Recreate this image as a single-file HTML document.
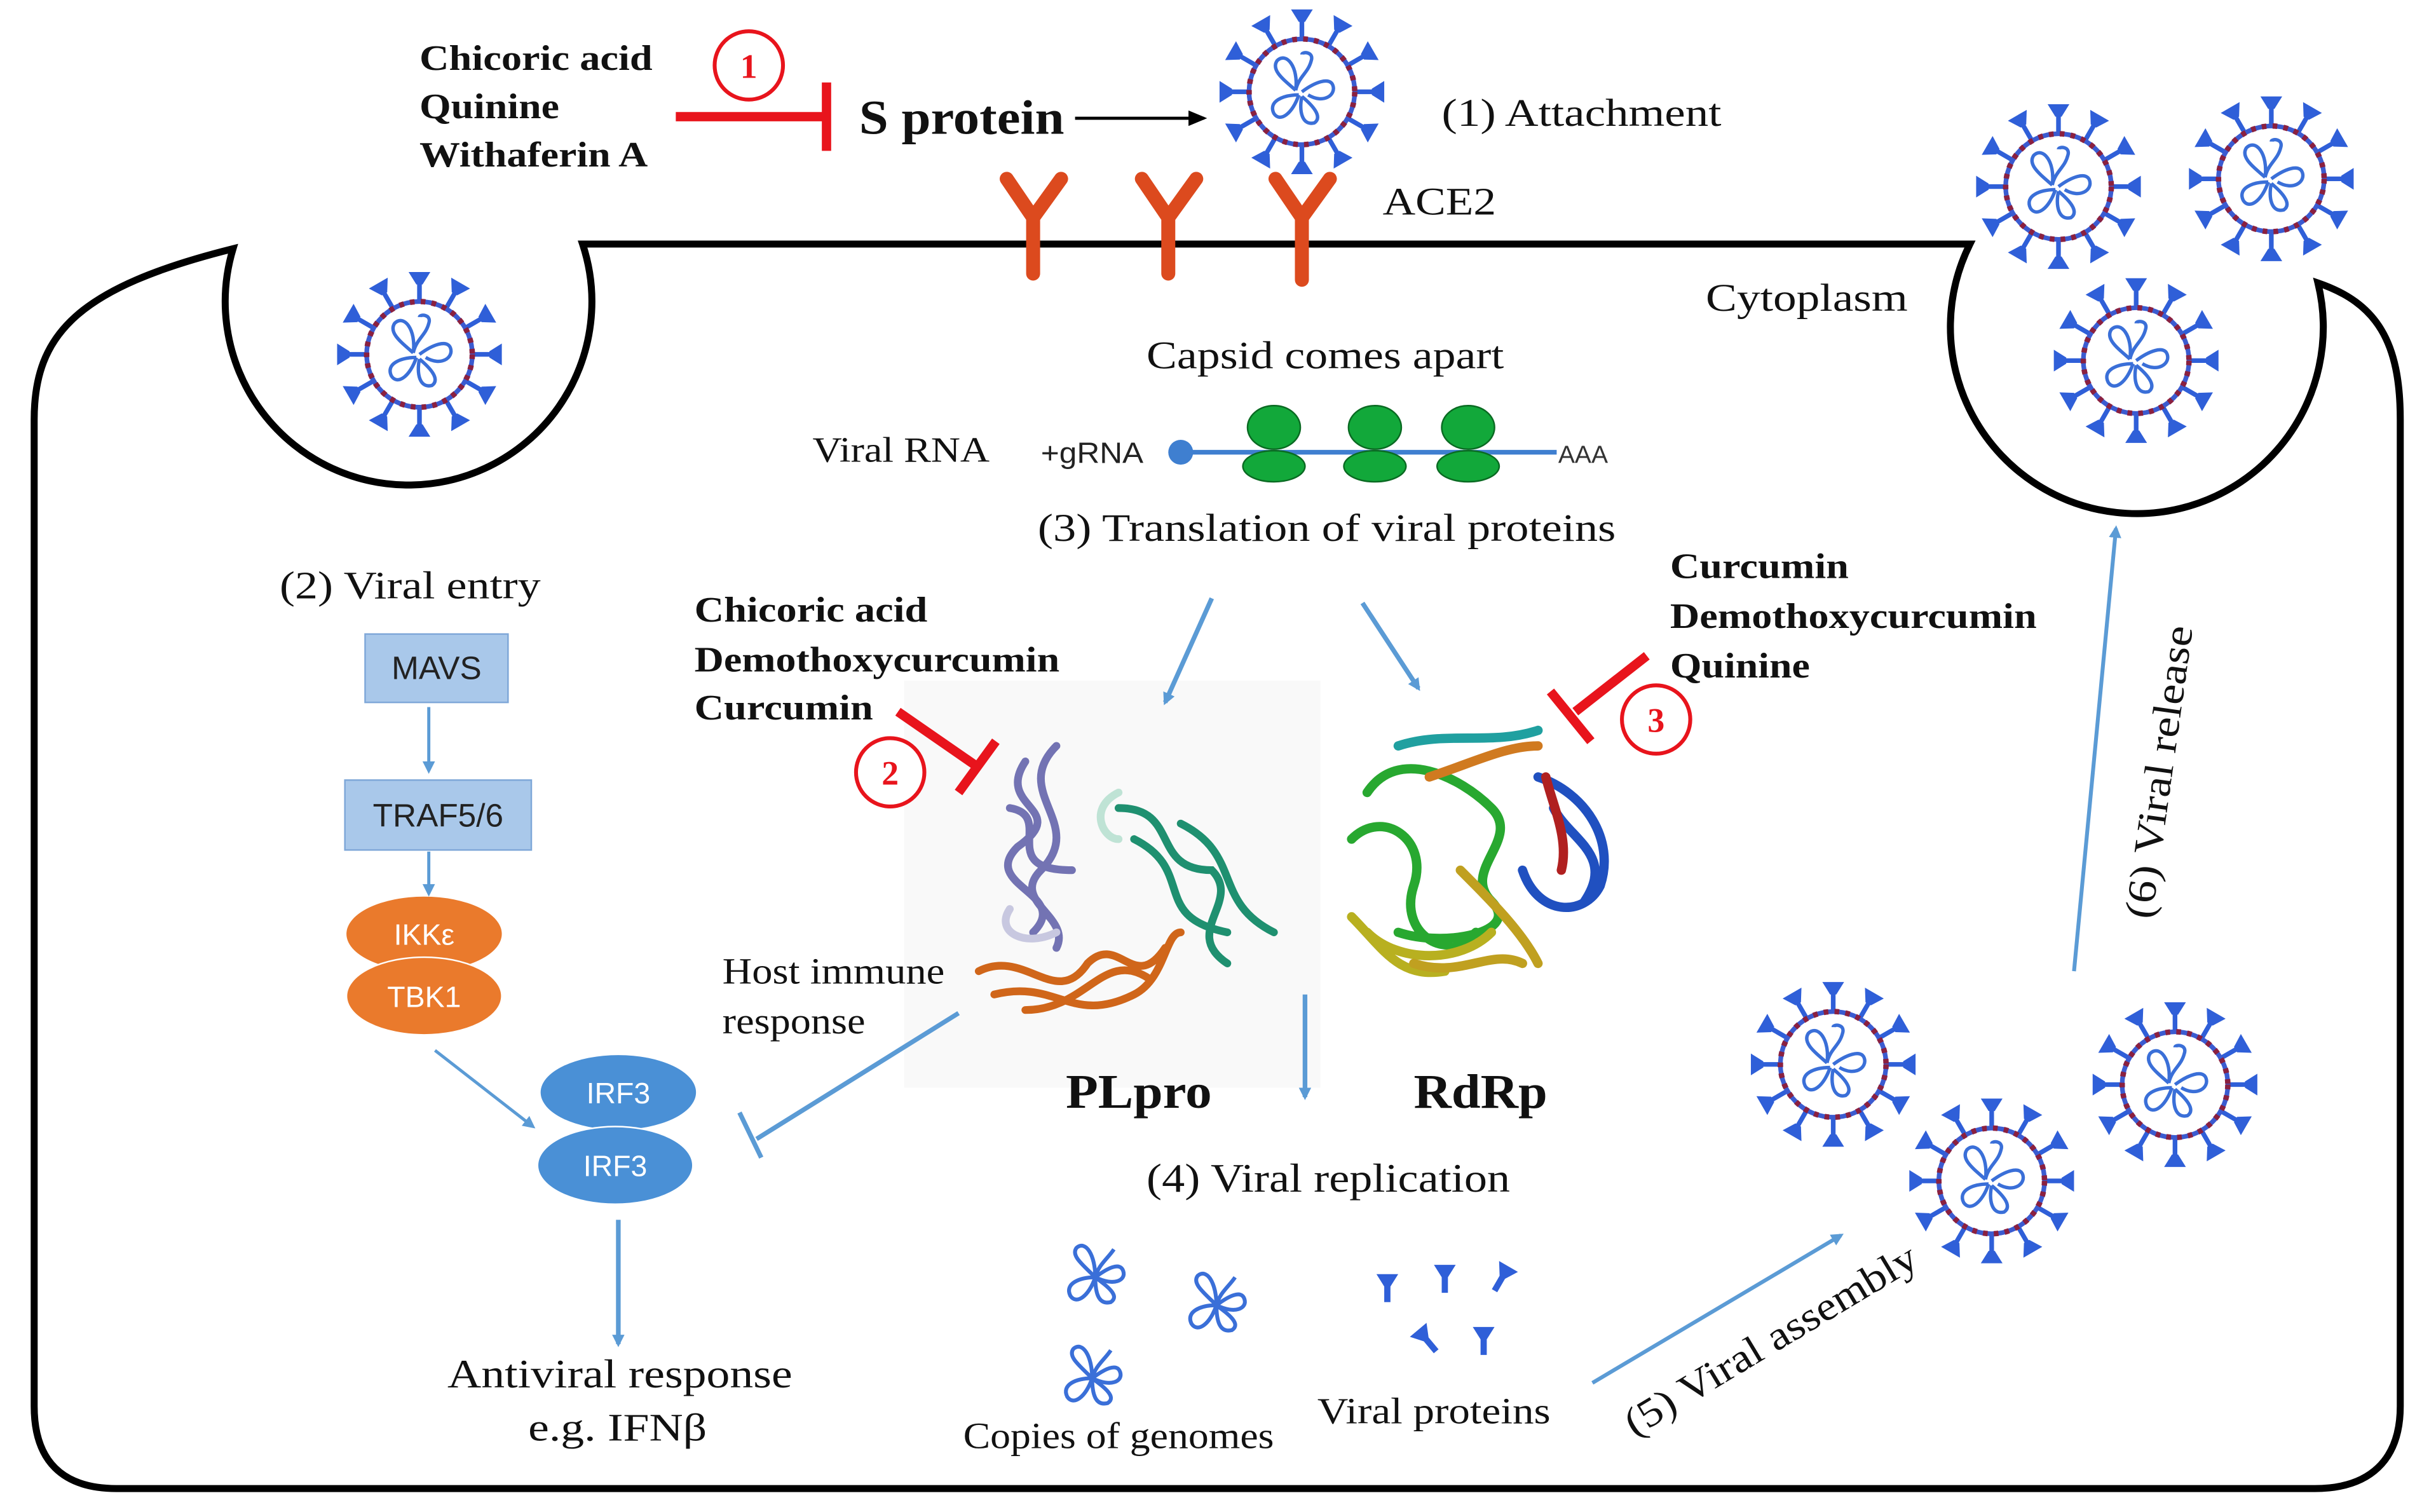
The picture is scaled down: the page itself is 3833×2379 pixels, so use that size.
<!DOCTYPE html>
<html><head><meta charset="utf-8"><style>
html,body{margin:0;padding:0;background:#fff}
svg{display:block}
.s{font-family:"Liberation Serif",serif;fill:#111}
.b{font-weight:bold}
.a{font-family:"Liberation Sans",sans-serif}
</style></head><body>
<svg width="3833" height="2379" viewBox="0 0 1568 973" xmlns="http://www.w3.org/2000/svg">
<defs>
<marker id="ab" markerWidth="8" markerHeight="8" refX="6" refY="4" orient="auto" markerUnits="userSpaceOnUse"><path d="M0,0 L8,4 L0,8 z" fill="#5b9bd5"/></marker>
<marker id="ak" markerWidth="12" markerHeight="10" refX="10" refY="5" orient="auto" markerUnits="userSpaceOnUse"><path d="M0,0 L12,5 L0,10 z" fill="#000"/></marker>
<g id="sp"><line x1="0" y1="-34" x2="0" y2="-46" stroke="#2f5fd8" stroke-width="3"/><path d="M-7,-53 L7,-53 L2,-45 L-2,-45 z" fill="#2f5fd8"/></g>
<g id="v">
<use href="#sp"/><use href="#sp" transform="rotate(30)"/><use href="#sp" transform="rotate(60)"/><use href="#sp" transform="rotate(90)"/><use href="#sp" transform="rotate(120)"/><use href="#sp" transform="rotate(150)"/><use href="#sp" transform="rotate(180)"/><use href="#sp" transform="rotate(210)"/><use href="#sp" transform="rotate(240)"/><use href="#sp" transform="rotate(270)"/><use href="#sp" transform="rotate(300)"/><use href="#sp" transform="rotate(330)"/>
<circle r="34" fill="#fff" stroke="#3b5bd0" stroke-width="3"/>
<circle r="34" fill="none" stroke="#8a2040" stroke-width="3.5" stroke-dasharray="3 4"/>
<g fill="none" stroke="#3a6fd8" stroke-width="2.2">
<path d="M-4,-1 C-12,-8 -20,-14 -16,-20 C-10,-26 -2,-16 -4,-1"/>
<path d="M-4,-1 C-2,-10 4,-12 6,-20 C8,-26 0,-26 0,-24"/>
<path d="M0,0 C8,-6 18,-10 20,-4 C22,2 14,8 4,2"/>
<path d="M-2,2 C-12,2 -22,6 -18,14 C-14,20 -6,14 -2,2"/>
<path d="M0,3 C-2,12 0,22 8,20 C14,16 6,8 0,3"/>
</g></g>
<g id="gn" fill="none" stroke="#3a6fd8" stroke-width="2.5">
<path d="M0,0 C-8,-8 -16,-14 -12,-19 C-6,-24 0,-14 0,0"/>
<path d="M0,0 C8,-6 16,-10 18,-4 C20,2 12,6 0,0"/>
<path d="M0,0 C-10,0 -20,4 -16,12 C-12,18 -4,12 0,0"/>
<path d="M0,0 C0,10 2,18 10,16 C16,12 8,6 0,0"/>
<path d="M0,0 C2,-8 8,-12 12,-18"/>
</g>
<g id="vp"><path d="M-7,-8 L7,-8 L2,0 L2,10 L-2,10 L-2,0 z" fill="#2f5fd8"/></g>
</defs>

<rect x="582" y="438" width="268" height="262" fill="#f9f9f9"/>

<!-- cell outline -->
<path d="M375,157 L1268,157 A120,120 0 1 0 1492,182 C1530,195 1545,220 1545,270 L1545,905 C1545,940 1525,958 1490,958 L75,958 C40,958 22,940 22,905 L22,270 C22,215 50,185 150,160 A118,118 0 1 0 375,157 Z" fill="none" stroke="#000" stroke-width="4.5"/>

<!-- top left -->
<text class="s b" x="270" y="45" font-size="23" textLength="150" lengthAdjust="spacingAndGlyphs">Chicoric acid</text>
<text class="s b" x="270" y="76" font-size="23" textLength="90" lengthAdjust="spacingAndGlyphs">Quinine</text>
<text class="s b" x="270" y="107" font-size="23" textLength="147" lengthAdjust="spacingAndGlyphs">Withaferin A</text>
<circle cx="482" cy="42" r="22" fill="#fff" stroke="#e8141c" stroke-width="2.5"/>
<text class="s b" x="482" y="50" font-size="22" style="fill:#e8141c" text-anchor="middle">1</text>
<line x1="435" y1="75" x2="530" y2="75" stroke="#e8141c" stroke-width="6"/>
<line x1="532" y1="53" x2="532" y2="97" stroke="#e8141c" stroke-width="6"/>
<text class="s b" x="553" y="86" font-size="31" textLength="132" lengthAdjust="spacingAndGlyphs">S protein</text>
<line x1="692" y1="76" x2="775" y2="76" stroke="#000" stroke-width="2" marker-end="url(#ak)"/>
<use href="#v" x="838" y="59"/>
<text class="s" x="928" y="81" font-size="25" textLength="180" lengthAdjust="spacingAndGlyphs">(1) Attachment</text>

<!-- ACE2 -->
<g fill="none" stroke="#dc4a1e" stroke-width="9" stroke-linecap="round">
<path d="M665,176 L665,140 M665,140 L648,115 M665,140 L683,115"/>
<path d="M752,176 L752,140 M752,140 L735,115 M752,140 L770,115"/>
<path d="M838,180 L838,140 M838,140 L821,115 M838,140 L856,115"/>
</g>
<text class="s" x="890" y="138" font-size="25" textLength="73" lengthAdjust="spacingAndGlyphs">ACE2</text>
<text class="s" x="1098" y="200" font-size="25" textLength="130" lengthAdjust="spacingAndGlyphs">Cytoplasm</text>

<use href="#v" x="270" y="228"/>
<use href="#v" x="1325" y="120"/>
<use href="#v" x="1462" y="115"/>
<use href="#v" x="1375" y="232"/>
<use href="#v" x="1180" y="685"/>
<use href="#v" x="1400" y="698"/>
<use href="#v" x="1282" y="760"/>

<!-- RNA -->
<text class="s" x="738" y="237" font-size="25" textLength="230" lengthAdjust="spacingAndGlyphs">Capsid comes apart</text>
<text class="s" x="523" y="297" font-size="23" textLength="114" lengthAdjust="spacingAndGlyphs">Viral RNA</text>
<text class="a" x="670" y="298" font-size="19" fill="#222" textLength="66" lengthAdjust="spacingAndGlyphs">+gRNA</text>
<line x1="760" y1="291" x2="1002" y2="291" stroke="#3f7fd0" stroke-width="3"/>
<circle cx="760" cy="291" r="8" fill="#3f7fd0"/>
<g fill="#12a83a" stroke="#0a6a22" stroke-width="1">
<ellipse cx="820" cy="275" rx="17" ry="14"/><ellipse cx="820" cy="300" rx="20" ry="10"/>
<ellipse cx="885" cy="275" rx="17" ry="14"/><ellipse cx="885" cy="300" rx="20" ry="10"/>
<ellipse cx="945" cy="275" rx="17" ry="14"/><ellipse cx="945" cy="300" rx="20" ry="10"/>
</g>
<text class="a" x="1003" y="298" font-size="16" fill="#333">AAA</text>
<text class="s" x="668" y="348" font-size="25" textLength="372" lengthAdjust="spacingAndGlyphs">(3) Translation of viral proteins</text>

<!-- left pathway -->
<text class="s" x="180" y="385" font-size="25" textLength="168" lengthAdjust="spacingAndGlyphs">(2) Viral entry</text>
<rect x="235" y="408" width="92" height="44" fill="#a9c8ea" stroke="#7ea7d8"/>
<text class="a" x="281" y="437" font-size="21" text-anchor="middle" fill="#222">MAVS</text>
<line x1="276" y1="455" x2="276" y2="496" stroke="#5b9bd5" stroke-width="2" marker-end="url(#ab)"/>
<rect x="222" y="502" width="120" height="45" fill="#a9c8ea" stroke="#7ea7d8"/>
<text class="a" x="282" y="532" font-size="21" text-anchor="middle" fill="#222">TRAF5/6</text>
<line x1="276" y1="548" x2="276" y2="575" stroke="#5b9bd5" stroke-width="2" marker-end="url(#ab)"/>
<ellipse cx="273" cy="601" rx="50" ry="24" fill="#ea7a2c"/>
<ellipse cx="273" cy="641" rx="50" ry="25" fill="#ea7a2c" stroke="#fff" stroke-width="1"/>
<text class="a" x="273" y="608" font-size="19" text-anchor="middle" fill="#fff">IKKε</text>
<text class="a" x="273" y="648" font-size="19" text-anchor="middle" fill="#fff">TBK1</text>
<line x1="280" y1="676" x2="343" y2="725" stroke="#5b9bd5" stroke-width="2" marker-end="url(#ab)"/>
<ellipse cx="398" cy="703" rx="50" ry="24" fill="#4a90d6"/>
<ellipse cx="396" cy="750" rx="50" ry="25" fill="#4a90d6" stroke="#fff" stroke-width="1"/>
<text class="a" x="398" y="710" font-size="19" text-anchor="middle" fill="#fff">IRF3</text>
<text class="a" x="396" y="757" font-size="19" text-anchor="middle" fill="#fff">IRF3</text>
<line x1="398" y1="785" x2="398" y2="865" stroke="#5b9bd5" stroke-width="3" marker-end="url(#ab)"/>
<text class="s" x="288" y="893" font-size="26" textLength="222" lengthAdjust="spacingAndGlyphs">Antiviral response</text>
<text class="s" x="340" y="927" font-size="25" textLength="115" lengthAdjust="spacingAndGlyphs">e.g. IFNβ</text>

<!-- inhibitors -->
<text class="s b" x="447" y="400" font-size="23" textLength="150" lengthAdjust="spacingAndGlyphs">Chicoric acid</text>
<text class="s b" x="447" y="432" font-size="23" textLength="235" lengthAdjust="spacingAndGlyphs">Demothoxycurcumin</text>
<text class="s b" x="447" y="463" font-size="23" textLength="115" lengthAdjust="spacingAndGlyphs">Curcumin</text>
<line x1="578" y1="458" x2="630" y2="494" stroke="#e8141c" stroke-width="6"/>
<line x1="617" y1="510" x2="641" y2="477" stroke="#e8141c" stroke-width="6"/>
<circle cx="573" cy="497" r="22" fill="#fff" stroke="#e8141c" stroke-width="2.5"/>
<text class="s b" x="573" y="505" font-size="22" style="fill:#e8141c" text-anchor="middle">2</text>

<text class="s b" x="1075" y="372" font-size="23" textLength="115" lengthAdjust="spacingAndGlyphs">Curcumin</text>
<text class="s b" x="1075" y="404" font-size="23" textLength="236" lengthAdjust="spacingAndGlyphs">Demothoxycurcumin</text>
<text class="s b" x="1075" y="436" font-size="23" textLength="90" lengthAdjust="spacingAndGlyphs">Quinine</text>
<line x1="1060" y1="422" x2="1014" y2="458" stroke="#e8141c" stroke-width="6"/>
<line x1="998" y1="445" x2="1024" y2="477" stroke="#e8141c" stroke-width="6"/>
<circle cx="1066" cy="463" r="22" fill="#fff" stroke="#e8141c" stroke-width="2.5"/>
<text class="s b" x="1066" y="471" font-size="22" style="fill:#e8141c" text-anchor="middle">3</text>

<line x1="780" y1="385" x2="750" y2="452" stroke="#5b9bd5" stroke-width="3" marker-end="url(#ab)"/>
<line x1="877" y1="388" x2="913" y2="443" stroke="#5b9bd5" stroke-width="3" marker-end="url(#ab)"/>

<!-- proteins -->
<g stroke-width="5" fill="none" stroke-linecap="round">
<path d="M660,490 C640,520 690,520 655,545 C630,570 690,575 665,600 M680,480 C650,510 700,530 670,560 C650,580 690,590 680,610 M650,520 C680,525 640,560 690,560" stroke="#7373b3"/>
<path d="M720,520 C760,520 740,560 780,560 C800,580 760,600 790,620 M730,540 C770,560 740,590 790,600 M760,530 C800,550 780,580 820,600" stroke="#1f9070"/>
<path d="M630,625 C660,610 680,650 700,620 C720,600 730,640 750,610 M640,640 C680,630 690,660 730,640 C750,630 750,600 760,600 M660,650 C700,650 710,610 740,630" stroke="#d0661a"/>
<path d="M720,510 C700,520 710,540 720,540" stroke="#bfe3d5"/>
<path d="M650,585 C640,600 660,610 680,600" stroke="#c8c8e0"/>
</g>
<g stroke-width="6" fill="none" stroke-linecap="round">
<path d="M880,510 C900,480 940,500 960,520 C980,540 940,560 960,580 C980,600 930,610 900,600 M870,540 C890,520 920,540 910,570 C900,600 930,620 950,600" stroke="#28a830"/>
<path d="M880,600 C900,620 940,620 960,600 M870,590 C890,610 900,630 930,625" stroke="#b8b020"/>
<path d="M900,480 C930,470 960,480 990,470" stroke="#20a0a0"/>
<path d="M920,500 C950,490 970,480 990,480" stroke="#d07a20"/>
<path d="M990,500 C1020,510 1040,540 1030,570 C1020,590 990,590 980,560 M1000,520 C1010,540 1040,550 1020,580" stroke="#2050c0"/>
<path d="M995,500 C1000,520 1010,540 1005,560" stroke="#b02020"/>
<path d="M940,560 C960,580 980,600 990,620 M910,620 C940,630 960,610 980,620" stroke="#c0a020"/>
</g>
<text class="s b" x="686" y="713" font-size="31" textLength="94" lengthAdjust="spacingAndGlyphs">PLpro</text>
<text class="s b" x="910" y="713" font-size="31" textLength="86" lengthAdjust="spacingAndGlyphs">RdRp</text>
<line x1="840" y1="640" x2="840" y2="706" stroke="#5b9bd5" stroke-width="3" marker-end="url(#ab)"/>

<text class="s" x="465" y="633" font-size="24" textLength="143" lengthAdjust="spacingAndGlyphs">Host immune</text>
<text class="s" x="465" y="665" font-size="24" textLength="92" lengthAdjust="spacingAndGlyphs">response</text>
<line x1="617" y1="652" x2="487" y2="733" stroke="#5b9bd5" stroke-width="3"/>
<line x1="476" y1="716" x2="490" y2="745" stroke="#5b9bd5" stroke-width="3"/>

<text class="s" x="738" y="767" font-size="26" textLength="234" lengthAdjust="spacingAndGlyphs">(4) Viral replication</text>
<use href="#gn" x="705" y="822"/>
<use href="#gn" x="783" y="840"/>
<use href="#gn" x="703" y="887"/>
<use href="#vp" x="893" y="828"/>
<use href="#vp" x="930" y="822"/>
<use href="#vp" x="967" y="822" transform="rotate(30 967 822)"/>
<use href="#vp" x="918" y="862" transform="rotate(-40 918 862)"/>
<use href="#vp" x="955" y="862"/>
<text class="s" x="620" y="932" font-size="24" textLength="200" lengthAdjust="spacingAndGlyphs">Copies of genomes</text>
<text class="s" x="848" y="916" font-size="24" textLength="150" lengthAdjust="spacingAndGlyphs">Viral proteins</text>

<line x1="1025" y1="890" x2="1185" y2="795" stroke="#5b9bd5" stroke-width="2.5" marker-end="url(#ab)"/>
<text class="s" x="1052" y="925" font-size="26" transform="rotate(-31 1052 925)" textLength="215" lengthAdjust="spacingAndGlyphs">(5) Viral assembly</text>
<line x1="1335" y1="625" x2="1362" y2="340" stroke="#5b9bd5" stroke-width="2.5" marker-end="url(#ab)"/>
<text class="s" x="1385" y="592" font-size="26" transform="rotate(-82 1385 592)" textLength="190" lengthAdjust="spacingAndGlyphs">(6) Viral release</text>
</svg>
</body></html>
